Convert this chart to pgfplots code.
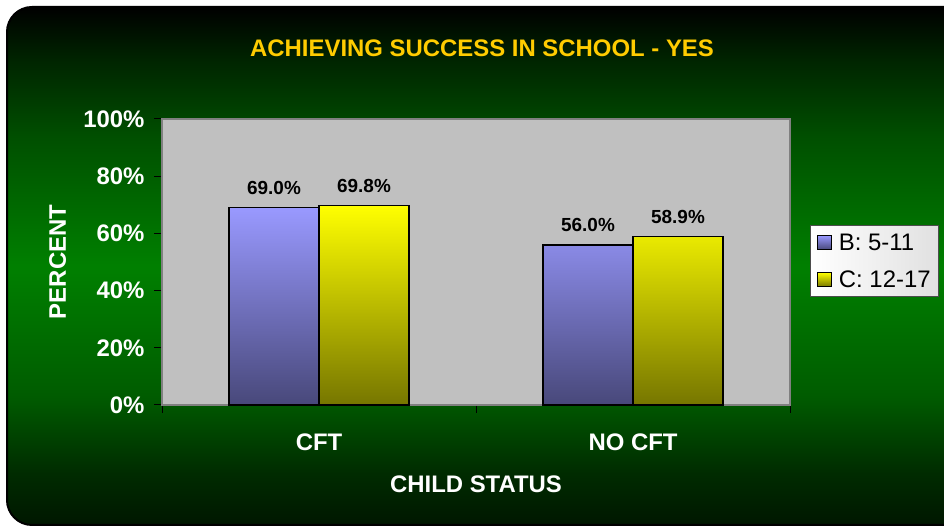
\documentclass[border=0pt]{standalone}
\usepackage{pgfplots}
\pgfplotsset{compat=1.18}
\usepackage{fontspec}
\setmainfont{Liberation Sans}
\definecolor{bgreen}{RGB}{0,128,0}
\definecolor{blueT}{RGB}{153,153,255}
\definecolor{blueB}{RGB}{72,72,122}
\definecolor{yelT}{RGB}{255,255,0}
\definecolor{yelB}{RGB}{118,118,0}
\definecolor{plotgray}{RGB}{192,192,192}
\definecolor{framegray}{RGB}{128,128,128}
\definecolor{titlegold}{RGB}{255,204,0}
\pgfdeclareverticalshading{bgshade}{100bp}{
  rgb(0bp)=(0,0.09,0);
  rgb(25bp)=(0,0.09,0);
  rgb(30bp)=(0,0.17,0);
  rgb(37.5bp)=(0,0.36,0);
  rgb(50bp)=(0,0.5,0);
  rgb(62.5bp)=(0,0.31,0);
  rgb(70bp)=(0,0.14,0);
  rgb(75bp)=(0,0,0);
  rgb(100bp)=(0,0,0)}
\begin{document}
\begin{tikzpicture}[x=1bp,y=1bp]
\useasboundingbox (0,0) rectangle (944,527);
\path[draw=black, line width=2bp, shading=bgshade]
  (950,2) -- (32,2) arc[start angle=270, end angle=180, radius=25]
  -- (7,495) arc[start angle=180, end angle=90, radius=25] -- (950,520) -- cycle;
\begin{axis}[
  at={(162bp,122bp)}, anchor=south west,
  scale only axis, width=628bp, height=286bp,
  xmin=-0.5, xmax=1.5, ymin=0, ymax=100,
  axis background/.style={fill=plotgray},
  axis line style={draw=framegray, line width=2bp},
  ybar=0pt, bar width=90bp,
  ytick={0,20,40,60,80,100},
  yticklabels={0\%,20\%,40\%,60\%,80\%,100\%},
  xtick={-0.5,0.5,1.5}, xticklabels={},
  extra x ticks={0,1}, extra x tick labels={CFT,NO CFT},
  extra x tick style={major tick length=0pt, xticklabel style={yshift=-25bp}},
  tick pos=left, tick align=outside, major tick length=8bp,
  tick style={black, line width=1bp},
  tick label style={text=white, font=\fontsize{24}{28}\selectfont\bfseries},
  yticklabel style={xshift=-6bp},
  title={ACHIEVING SUCCESS IN SCHOOL - YES},
  title style={at={(axis description cs:0.5096,1.228)}, anchor=center, text=titlegold, font=\fontsize{24}{28}\selectfont\bfseries},
  xlabel={CHILD STATUS},
  xlabel style={at={(axis description cs:0.5,-0.276)}, anchor=center, text=white, font=\fontsize{24}{28}\selectfont\bfseries},
  ylabel={PERCENT},
  ylabel style={at={(axis description cs:-0.166,0.5)}, anchor=center, text=white, font=\fontsize{24}{28}\selectfont\bfseries},
  nodes near coords={\pgfmathprintnumber[fixed,fixed zerofill,precision=1,assume math mode=true]{\pgfplotspointmeta}\%},
  nodes near coords style={font=\fontsize{19}{22}\selectfont\bfseries, text=black, yshift=9bp},
  legend style={at={(axis description cs:1.032,0.629)}, anchor=north west, draw=black!70, line width=1bp,
    left color=white, right color=black!12, font=\fontsize{24}{28}\selectfont, text=black,
    inner xsep=6bp, inner ysep=6bp, row sep=15bp, cells={anchor=west}},
  clip=false,
]
\addplot[draw=black, line width=1.5bp, top color=blueT, bottom color=blueB,
  legend image code/.code={\draw[fill=blueT, draw=black, line width=1.2bp] (0bp,-7bp) rectangle (14bp,7bp); \path (19bp,0bp);}]
  coordinates {(0,69.0) (1,56.0)};
\addlegendentry{B: 5-11}
\addplot[draw=black, line width=1.5bp, top color=yelT, bottom color=yelB,
  legend image code/.code={\draw[fill=yelT, draw=black, line width=1.2bp] (0bp,-7bp) rectangle (14bp,7bp); \path (19bp,0bp);}]
  coordinates {(0,69.8) (1,58.9)};
\addlegendentry{C: 12-17}
\end{axis}
\end{tikzpicture}
\end{document}
